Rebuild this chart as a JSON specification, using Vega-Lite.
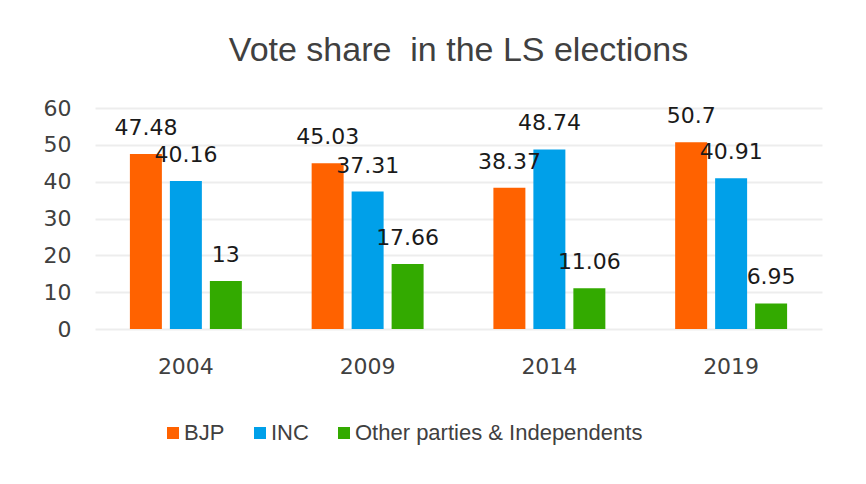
{
  "$schema": "https://vega.github.io/schema/vega-lite/v6.json",
  "width": 727,
  "height": 221,
  "autosize": {"type": "none"},
  "padding": {"left": 95, "top": 108, "right": 44, "bottom": 155},
  "background": "white",
  "title": {
    "text": "Vote share\u00a0 in the LS elections",
    "font": "Liberation Sans",
    "fontSize": 34,
    "fontWeight": "normal",
    "color": "#404040",
    "anchor": "middle",
    "offset": 29
  },
  "data": {
    "values": [
      {"year": "2004", "party": "BJP", "value": 47.48},
      {"year": "2004", "party": "INC", "value": 40.16},
      {"year": "2004", "party": "Other parties & Independents", "value": 13},
      {"year": "2009", "party": "BJP", "value": 45.03},
      {"year": "2009", "party": "INC", "value": 37.31},
      {"year": "2009", "party": "Other parties & Independents", "value": 17.66},
      {"year": "2014", "party": "BJP", "value": 38.37},
      {"year": "2014", "party": "INC", "value": 48.74},
      {"year": "2014", "party": "Other parties & Independents", "value": 11.06},
      {"year": "2019", "party": "BJP", "value": 50.7},
      {"year": "2019", "party": "INC", "value": 40.91},
      {"year": "2019", "party": "Other parties & Independents", "value": 6.95}
    ]
  },
  "encoding": {
    "x": {
      "field": "year",
      "type": "nominal",
      "scale": {"paddingInner": 0.384, "paddingOuter": 0.192},
      "axis": {
        "title": null,
        "labelAngle": 0,
        "labelFont": "DejaVu Sans",
        "labelFontSize": 22,
        "labelColor": "#404040",
        "labelPadding": 27,
        "ticks": false,
        "tickSize": 0,
        "domain": false,
        "grid": false
      }
    },
    "xOffset": {
      "field": "party",
      "type": "nominal",
      "sort": ["BJP", "INC", "Other parties & Independents"],
      "scale": {"paddingInner": 0.2, "paddingOuter": 0}
    },
    "y": {
      "field": "value",
      "type": "quantitative",
      "scale": {"domain": [0, 60]},
      "axis": {
        "title": null,
        "values": [0, 10, 20, 30, 40, 50, 60],
        "labelFont": "DejaVu Sans",
        "labelFontSize": 22,
        "labelColor": "#404040",
        "labelPadding": 24,
        "ticks": false,
        "tickSize": 0,
        "domain": false,
        "grid": true,
        "gridColor": "#ededed",
        "gridWidth": 2
      }
    }
  },
  "layer": [
    {
      "mark": {"type": "bar"},
      "encoding": {
        "color": {
          "field": "party",
          "type": "nominal",
          "sort": ["BJP", "INC", "Other parties & Independents"],
          "scale": {
            "domain": ["BJP", "INC", "Other parties & Independents"],
            "range": ["#FF6200", "#00A0E9", "#33AA00"]
          },
          "legend": {
            "title": null,
            "orient": "none",
            "direction": "horizontal",
            "legendX": 67,
            "legendY": 314,
            "symbolType": "square",
            "symbolSize": 144,
            "symbolStrokeWidth": 0,
            "symbolOpacity": 1,
            "labelFont": "Liberation Sans",
            "labelFontSize": 22,
            "labelColor": "#404040",
            "labelOffset": 0,
            "columnPadding": 24,
            "labelLimit": 400
          }
        }
      }
    },
    {
      "mark": {
        "type": "text",
        "font": "DejaVu Sans",
        "fontSize": 22,
        "color": "#1a1a1a",
        "baseline": "alphabetic",
        "align": "center",
        "dy": -19
      },
      "encoding": {
        "text": {"field": "value", "type": "quantitative"}
      }
    }
  ],
  "config": {
    "view": {"stroke": null}
  }
}
